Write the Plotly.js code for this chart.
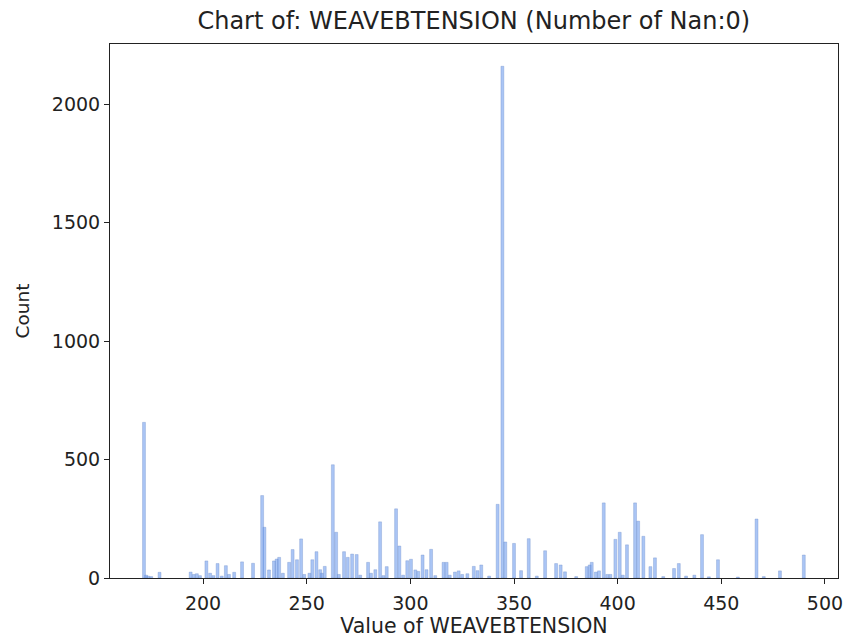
<!DOCTYPE html>
<html>
<head>
<meta charset="utf-8">
<script src="https://cdn.plot.ly/plotly-3.0.1.min.js"></script>
<style>html,body{margin:0;padding:0;background:#fff;}#chart{width:843px;height:640px;}</style>
</head>
<body>
<div id="chart"></div>
<script>
// Bin centres (value of WEAVEBTENSION) and counts
const binCenters = [171.5,172.5,173.5,175,179,194,195.5,197,198.5,201.6,203.4,205,207,209,211,212.5,215,218.8,224.1,228.5,229.6,231.8,234.2,235.5,236.7,238.5,241.5,243.2,245.3,247.3,248.8,251.3,252.7,254.7,256.5,257.3,258.7,262.6,264.2,265.5,268,269.8,271.9,274.1,275.8,279.6,281,283.1,285.4,287,288.6,293.1,294.7,296.5,298.5,300.3,302.4,303.8,305.9,307.8,310,312,316,317.5,319,321.5,323.3,325,327.5,330.6,332.4,334.2,338,342.1,344.4,345.8,350,353.4,357.1,361,365,370.3,372.5,374.6,380,385.1,386.5,387.5,389.5,391,393.3,395,396.5,398.9,401,402.5,404.5,408.4,409.9,412.4,415.8,418,422,427.2,429.5,433,437,440.7,444,448.4,458,467,470.5,478.3,489.8];
const counts = [657,12,8,6,24,25,15,18,10,72,20,10,61,8,52,15,24,68,62,348,214,34,72,80,87,20,66,120,77,165,15,20,77,111,35,20,49,478,193,15,111,87,101,99,12,66,20,35,237,10,48,292,135,12,73,79,34,28,97,35,121,10,66,66,12,25,30,15,18,49,31,55,8,311,2160,152,146,31,166,8,115,61,55,26,6,48,55,66,25,30,317,15,15,163,193,12,140,317,240,176,48,85,6,40,61,8,12,183,5,77,4,249,6,30,97];
const yTicks = [0,500,1000,1500,2000];
const xTicks = [200,250,300,350,400,450,500];

const font = {family: 'DejaVu Sans, sans-serif', color: '#222'};

Plotly.newPlot('chart', [{
  type: 'bar',
  x: binCenters,
  y: counts,
  width: 1.4,
  marker: {color: 'rgba(100,149,237,0.55)', line: {color: 'rgba(110,140,200,0.7)', width: 0.5}},
  hoverinfo: 'x+y'
}], {
  width: 843, height: 640,
  margin: {l: 110, r: 5, t: 44, b: 62},
  paper_bgcolor: '#fff', plot_bgcolor: '#fff',
  showlegend: false,
  bargap: 0,
  font: Object.assign({size: 16}, font),
  title: {text: 'Chart of: WEAVEBTENSION (Number of Nan:0)', x: 0.562, xanchor: 'center', y: 0.968, yanchor: 'middle', font: Object.assign({size: 24}, font)},
  xaxis: {
    range: [155.1, 506.3], tickvals: xTicks, ticktext: xTicks.map(String),
    showgrid: false, zeroline: false, showline: true, mirror: true, linecolor: '#222', linewidth: 1,
    ticks: 'outside', ticklen: 5, tickcolor: '#222', tickfont: Object.assign({size: 19}, font),
    ticklabeloverflow: 'allow', ticklabelstandoff: 3,
    title: {text: 'Value of WEAVEBTENSION', font: Object.assign({size: 20.5}, font), standoff: 5}
  },
  yaxis: {
    range: [0, 2254], tickvals: yTicks, ticktext: yTicks.map(String),
    showgrid: false, zeroline: false, showline: true, mirror: true, linecolor: '#222', linewidth: 1,
    ticks: 'outside', ticklen: 5, tickcolor: '#222', tickfont: Object.assign({size: 19}, font),
    title: {text: 'Count', font: Object.assign({size: 18.5}, font), standoff: 17}
  }
}, {displayModeBar: false, staticPlot: true});
</script>
</body>
</html>
